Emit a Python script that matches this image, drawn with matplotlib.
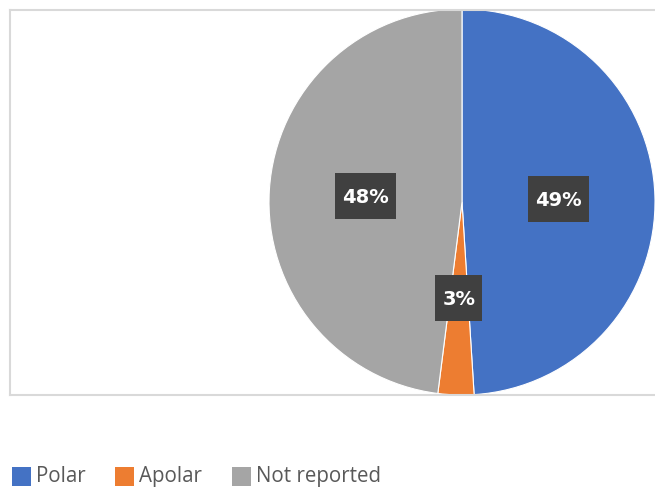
import matplotlib
matplotlib.use("Agg")
import matplotlib.pyplot as plt
from matplotlib.patches import Rectangle
from matplotlib.lines import Line2D
from matplotlib.transforms import IdentityTransform

categories = ["Polar", "Apolar", "Not reported"]
values = [49, 3, 48]
colors = ["#4472C4", "#ED7D31", "#A5A5A5"]

W, H = 655, 490
fig = plt.figure(figsize=(W / 100, H / 100), dpi=100)

# chart frame (top, left and bottom edges; right side runs off the canvas)
frame_kw = dict(color="#D9D9D9", lw=1.5, transform=IdentityTransform())
fig.add_artist(Line2D([10, 700], [H - 10, H - 10], **frame_kw))
fig.add_artist(Line2D([10, 10], [H - 10, H - 395], **frame_kw))
fig.add_artist(Line2D([10, 700], [H - 395, H - 395], **frame_kw))

# pie axes: centre (462, 202), radius 193 px
cx, cy, r = 462, 202, 193
ax = fig.add_axes([(cx - r) / W, (H - cy - r) / H, 2 * r / W, 2 * r / H])

wedges, texts, autotexts = ax.pie(
    values, colors=colors, startangle=90, counterclock=False, radius=1,
    autopct=lambda p: f"{p:.0f}%", pctdistance=0.5,
    wedgeprops=dict(edgecolor="white", linewidth=0.8),
    textprops=dict(color="white", fontsize=14, fontweight="bold",
                   family="DejaVu Sans"),
)
ax.set_xlim(-1, 1)
ax.set_ylim(-1, 1)
ax.set_aspect("equal")
ax.axis("off")

# dark label boxes centred on each percentage position
fig.canvas.draw()
renderer = fig.canvas.get_renderer()
for t in autotexts:
    px, py = ax.transData.transform(t.get_position())
    bb = t.get_window_extent(renderer)
    bw = bb.width + 14
    bh = 46
    box = Rectangle((px - bw / 2, py - bh / 2), bw, bh,
                    facecolor="#404040", edgecolor="none",
                    transform=IdentityTransform(), zorder=2)
    fig.add_artist(box)
    t.remove()
    t.set_transform(IdentityTransform())
    t.set_position((px, py - 1.5))
    t.set_zorder(3)
    fig.add_artist(t)

# legend along the bottom
leg_x = [12, 115, 232]
for x, lab, col in zip(leg_x, categories, colors):
    fig.add_artist(Rectangle((x, H - 486), 19, 19, facecolor=col,
                             edgecolor="none", transform=IdentityTransform()))
    fig.text((x + 24) / W, (H - 476.5) / H, lab, fontsize=14.8,
             family="Open Sans", color="#595959", va="center", ha="left")

fig.savefig("out.png", dpi=100)
